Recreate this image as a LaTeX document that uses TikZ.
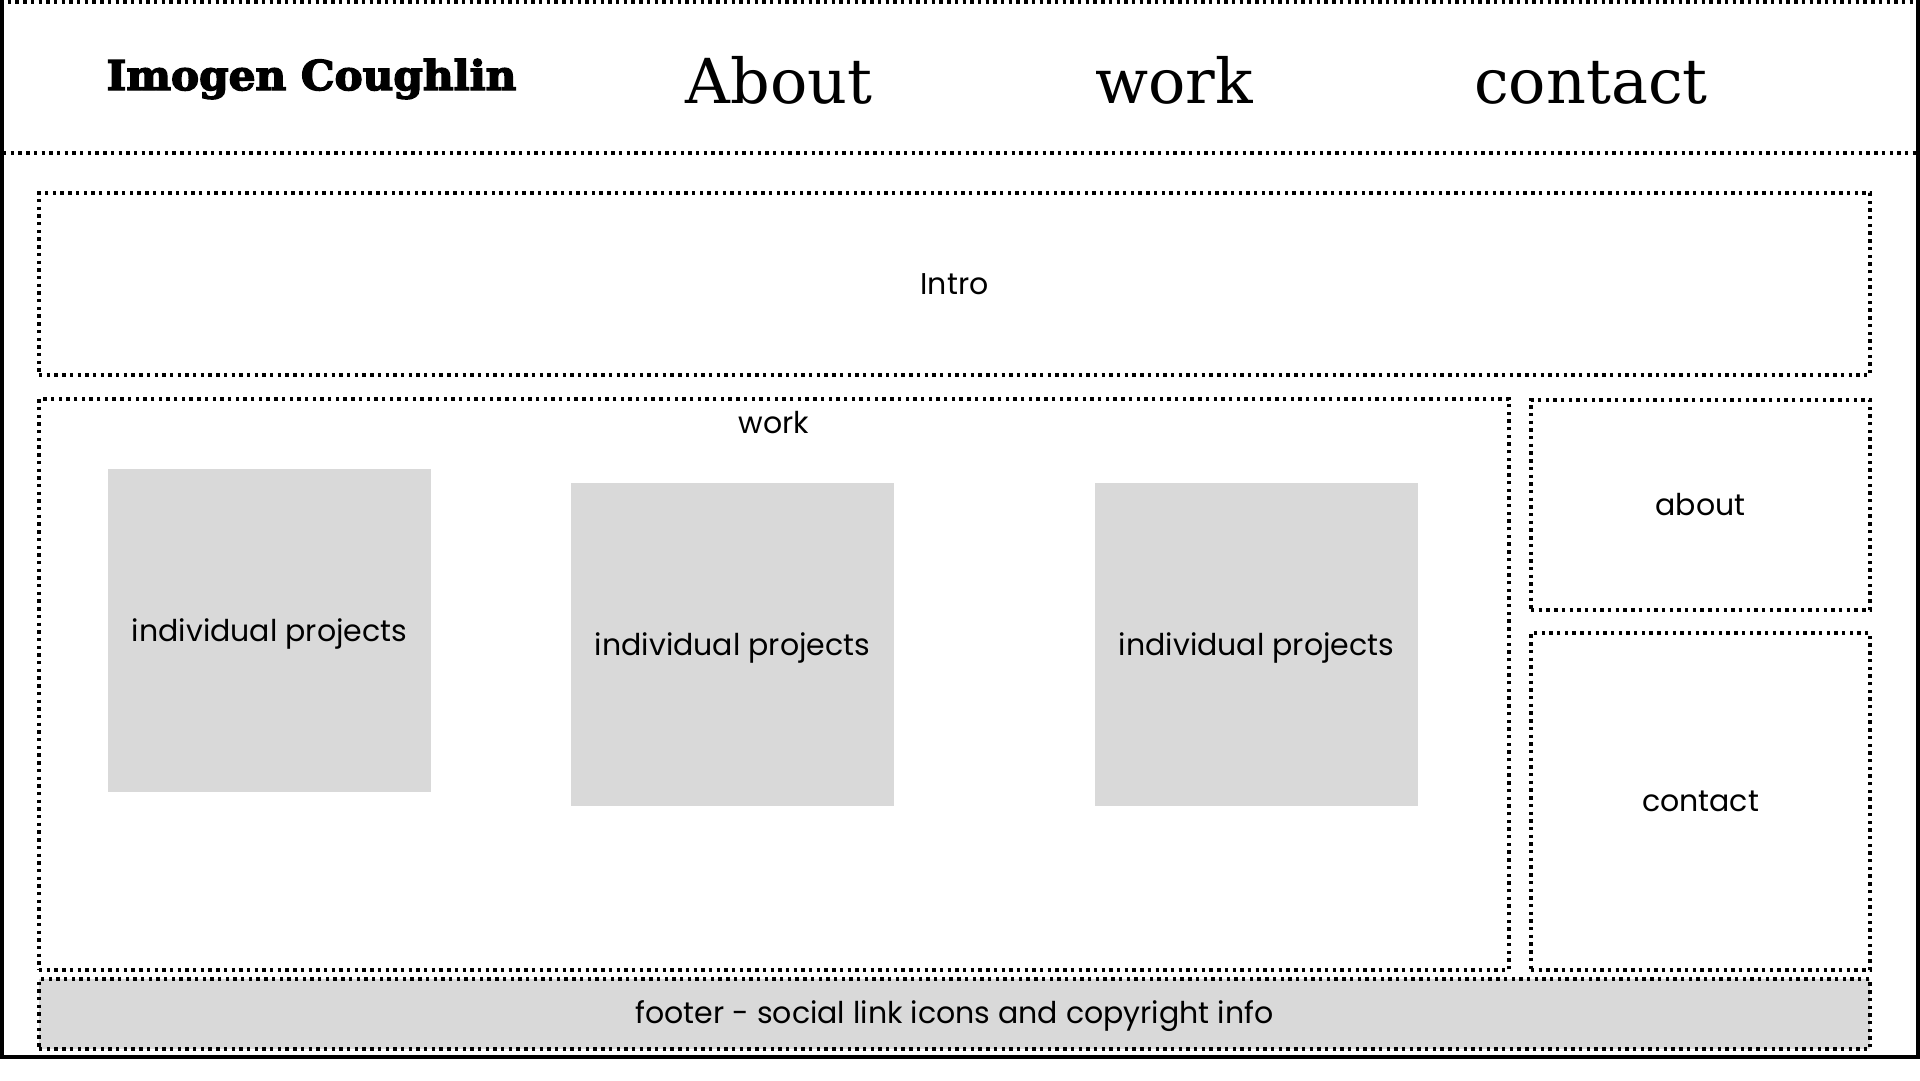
\documentclass[tikz,border=0pt]{standalone}
\usepackage{fontspec}
\setmainfont{Poppins}
\newfontfamily\brandfont[FakeBold=3.5]{DejaVu Serif Bold}
\newfontfamily\navfont{DejaVu Serif}
\definecolor{panelgray}{HTML}{D9D9D9}
\begin{document}
\begin{tikzpicture}[x=1pt,y=-1pt,
  dotline/.style={line width=3.4pt,dash pattern=on 3.4pt off 4.3pt},
  region/.style={draw,dotline,inner sep=0pt,font=\fontsize{30}{36}\selectfont},
  project/.style={fill=panelgray,inner sep=0pt,minimum width=323pt,minimum height=323pt,text depth=0pt,font=\fontsize{30}{36}\selectfont},
  navitem/.style={anchor=base,font=\navfont\fontsize{62}{70}\selectfont},
  bodytext/.style={font=\fontsize{30}{36}\selectfont,inner sep=0pt}]
\useasboundingbox (0,0) rectangle (1920,1080);
\fill[white] (0,0) rectangle (1920,1080);

% page frame
\coordinate (tl) at (1.75,0);
\coordinate (bl) at (1.75,1057);
\coordinate (br) at (1918,1057);
\coordinate (tr) at (1918,0);
\draw[line width=3.5pt] (tl) -- (bl) -- (br) -- (tr);
\coordinate (topa) at (0,2);
\coordinate (topb) at (1916,2);
\draw[dotline] (topa) -- (topb);
\coordinate (hsa) at (3,153);
\coordinate (hsb) at (1916,153);
\draw[dotline] (hsa) -- (hsb);

% header
\node[anchor=base,inner sep=0pt,font=\brandfont\fontsize{41}{44}\selectfont] (brand) at (311.5,90) {\scalebox{1.03}[1]{Imogen Coughlin}};
\node[navitem] (navabout) at (779,103) {About};
\node[navitem] (navwork) at (1174,103) {work};
\node[navitem] (navcontact) at (1591,103) {contact};

% page sections
\node[region,minimum width=1831pt,minimum height=182pt] (intro) at (954.5,284) {Intro};
\node[region,minimum width=1470pt,minimum height=571pt] (work) at (774,684.5) {};
\node[bodytext,anchor=center] (worklabel) at (774,423) {work};
\node[region,minimum width=339pt,minimum height=210pt] (about) at (1700.5,505) {about};
\node[region,minimum width=339pt,minimum height=337pt] (contact) at (1700.5,801.5) {contact};
\node[region,fill=panelgray,minimum width=1831pt,minimum height=70pt] (footer) at (954.5,1014) {};
\node[bodytext] (footertext) at (954.5,1016) {footer - social link icons and copyright info};

% project cards
\node[project] (proja) at (269.5,630) {individual projects};
\node[project] (projb) at (732.5,644) {individual projects};
\node[project] (projc) at (1256.5,644) {individual projects};
\end{tikzpicture}
\end{document}
